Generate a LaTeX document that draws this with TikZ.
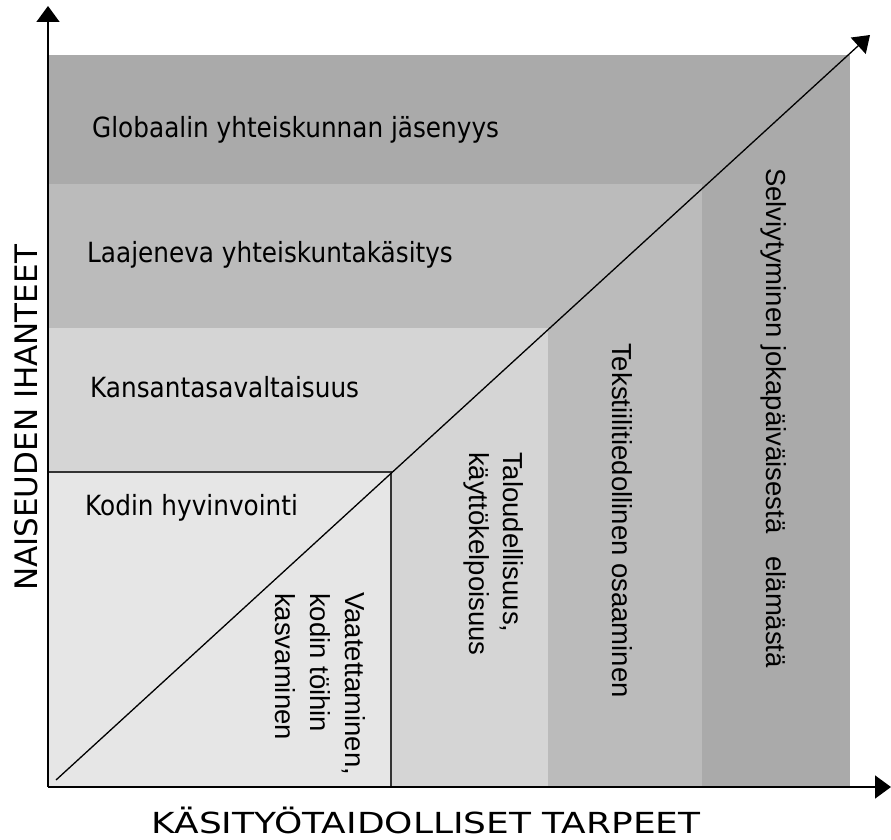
\documentclass[tikz,border=0pt]{standalone}
\usepackage{fontspec}
\usepackage{tikz}
\setmainfont{DejaVu Sans}
\newfontfamily\colfont{Liberation Sans}
\usetikzlibrary{arrows.meta, positioning}
\definecolor{gglobal}{HTML}{AAAAAA}
\definecolor{gsociety}{HTML}{BBBBBB}
\definecolor{gnation}{HTML}{D5D5D5}
\definecolor{ghome}{HTML}{E6E6E6}

\begin{document}
\begin{tikzpicture}[x=1pt,y=-1pt,
    rowlabel/.style={anchor=base west,inner sep=0pt,xscale=0.89,font=\fontsize{27.8}{32}\selectfont},
    collabel/.style={anchor=base west,inner sep=0pt,rotate=-90,font=\colfont\fontsize{27.5}{35}\selectfont},
    axisarrow/.style={-{Triangle[length=16pt,width=23pt]},line width=1.6pt}]
    \useasboundingbox (0,0) rectangle (891,840);

    % Tasot
    \fill[gglobal] (48,55) rectangle (850,787);
    \fill[gsociety] (48,184) rectangle (702,787);
    \fill[gnation] (48,328) rectangle (548,787);
    \fill[ghome] (48,472) rectangle (391,787);
    \draw[line width=1.6pt,black!80] (48,472) -- (391,472) -- (391,787);

    % Akselit
    \coordinate (O) at (48,787);
    \coordinate (ytip) at (48,6);
    \coordinate (xtip) at (891,787);
    \draw[axisarrow] (O) -- (ytip);
    \draw[axisarrow] (O) -- (xtip);

    % Diagonaali
    \coordinate (d0) at (56,780);
    \coordinate (d1) at (870,35);
    \draw[-{Triangle[length=16pt,width=22pt]},line width=1.3pt] (d0) -- (d1);

    % Vaakatekstit
    \node[rowlabel] (global) at (92,138) {Globaalin yhteiskunnan jäsenyys};
    \node[rowlabel] (society) at (87,262) {Laajeneva yhteiskuntakäsitys};
    \node[rowlabel] (nation) at (90,397) {Kansantasavaltaisuus};
    \node[rowlabel] (home) at (85,515) {Kodin hyvinvointi};

    % Pystytekstit
    \node[collabel] (cloth1) at (345,592) {Vaatettaminen,};
    \node[collabel] (cloth2) at (310,593) {kodin töihin};
    \node[collabel] (cloth3) at (275,593) {kasvaminen};
    \node[collabel] (econ1) at (503,452) {Taloudellisuus,};
    \node[collabel] (econ2) at (469,452) {käyttökelpoisuus};
    \node[collabel] (textile) at (612,343) {Tekstiilitiedollinen osaaminen};
    \node[collabel] (survive) at (766,168) {Selviytyminen jokapäiväisestä\ \ \ elämästä};

    % Akselien nimet
    \node[rotate=90,anchor=base,inner sep=0pt,font=\fontsize{31}{36}\selectfont] (ylabel) at (37,418) {NAISEUDEN IHANTEET};
    \node[anchor=base,inner sep=0pt,xscale=1.24,font=\fontsize{29}{34}\selectfont] (xlabel) at (426,833) {KÄSITYÖTAIDOLLISET TARPEET};
\end{tikzpicture}
\end{document}
